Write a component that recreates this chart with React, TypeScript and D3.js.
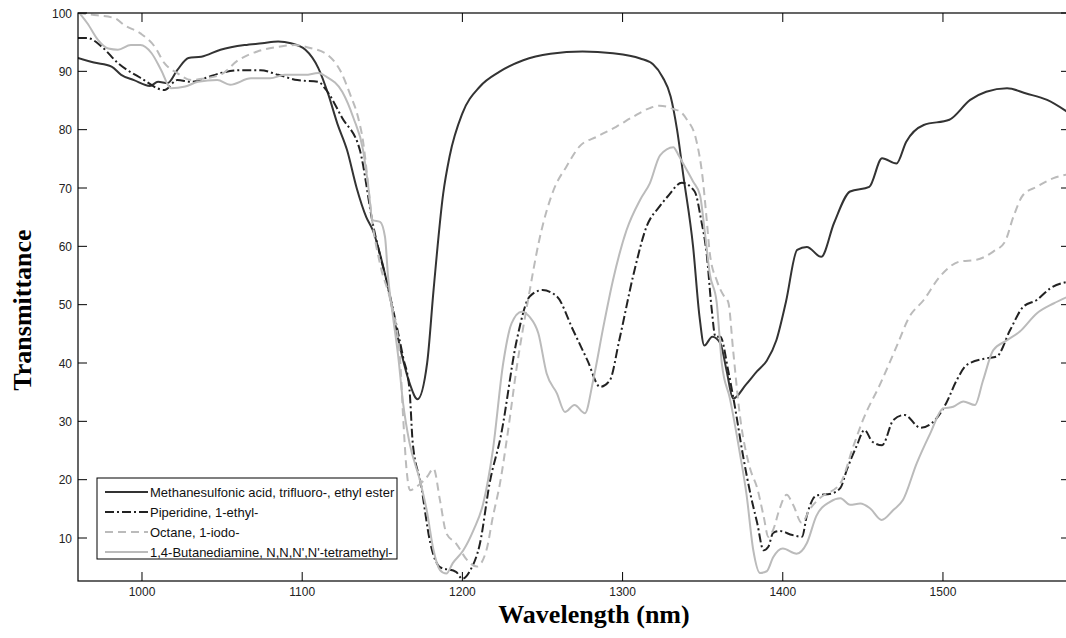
import React from "react";
import * as d3 from "d3";

const W = 1066;
const H = 638;

const xTicks = [1000, 1100, 1200, 1300, 1400, 1500];
const yTicks = [10, 20, 30, 40, 50, 60, 70, 80, 90, 100];

const seriesNames = [
  "Methanesulfonic acid, trifluoro-, ethyl ester",
  "Piperidine, 1-ethyl-",
  "Octane, 1-iodo-",
  "1,4-Butanediamine, N,N,N',N'-tetramethyl-",
];

const wlMeth = [960, 970, 981, 987, 995, 1005, 1010, 1016, 1022, 1029, 1037, 1049, 1064, 1075, 1085, 1093, 1102, 1110, 1116, 1122, 1128, 1134, 1140, 1144, 1153, 1161, 1167, 1172, 1178, 1182, 1188, 1192, 1200, 1211, 1223, 1238, 1255, 1275, 1294, 1311, 1319, 1325, 1330, 1334, 1338, 1344, 1348, 1351, 1356, 1361, 1365, 1369, 1377, 1384, 1390, 1396, 1402, 1409, 1415, 1424, 1432, 1442, 1454, 1462, 1471, 1477, 1488, 1504, 1517, 1527, 1540, 1552, 1565, 1579];
const tMeth = [92.3, 91.5, 90.8, 89.4, 88.5, 87.5, 88.2, 88.0, 90.2, 92.3, 92.5, 93.7, 94.5, 94.8, 95.1, 94.8, 93.7, 90.6, 86.3, 81, 76.5, 70, 65, 62.8, 53.7, 42.8, 36.6, 33.8, 40, 52.5, 69, 75.4, 82.8, 87.4, 89.9, 91.9, 93.0, 93.4, 93.1, 92.2, 91.2, 89, 85.7, 80, 72, 60, 48, 43, 44.5, 43.4, 38.6, 33.9, 36.3, 38.6, 40.4, 43.9, 50.5, 59.4, 59.9, 58.2, 64, 69.4, 70.2, 75.1, 74.2, 77.9, 80.8, 81.7, 85.1, 86.5, 87.1, 86.2, 85.1, 82.8];

const wlPip = [960, 966, 975, 985, 999, 1014, 1022, 1031, 1039, 1049, 1062, 1074, 1085, 1097, 1110, 1115, 1125, 1136, 1144, 1154, 1163, 1167, 1169, 1174, 1180, 1186, 1196, 1200, 1205, 1211, 1217, 1224, 1234, 1242, 1250, 1259, 1269, 1278, 1286, 1292, 1298, 1307, 1315, 1323, 1328, 1337, 1345, 1349, 1352.5, 1355.6, 1358, 1361, 1366, 1370, 1375, 1380, 1384, 1388, 1391, 1394, 1398, 1406, 1412, 1415, 1421, 1430, 1436, 1440, 1446, 1451, 1456, 1462, 1469, 1476, 1486, 1495, 1502, 1508.5, 1515, 1527, 1533.5, 1542, 1550, 1558.5, 1567, 1579];
const tPip = [95.7, 95.7, 94.2, 91.4, 88.9, 86.8, 88.5, 88.2, 88.8, 89.7, 90.2, 90.2, 89.4, 88.5, 88.2, 86.8, 82, 76.5, 64, 52.5, 41, 35.4, 26.3, 19.4, 9.1, 5, 4.2, 3.0, 4.5, 9.1, 19.4, 27.5, 44, 51.4, 52.5, 51.4, 45.7, 40.5, 35.9, 37, 44, 55.4, 63.4, 66.8, 68.5, 70.9, 69.4, 64.6, 58.7, 49.3, 44.5, 44.5, 38.6, 32.7, 24.4, 17.3, 12.6, 7.9, 8.5, 10.9, 11.2, 10.5, 10.2, 13.8, 17.3, 17.6, 18.6, 21.7, 25.7, 28.5, 26.5, 25.9, 30.2, 31.1, 28.9, 30.2, 33.1, 37, 39.7, 40.8, 41.1, 45.7, 49.6, 50.8, 52.8, 54];

const wlOct = [960, 972, 983, 989, 999, 1008, 1014, 1022, 1031, 1039, 1049, 1060, 1072, 1085, 1095, 1105, 1116, 1124, 1130, 1135, 1138, 1141, 1143.4, 1149, 1155, 1161, 1163, 1165, 1167.3, 1171.5, 1178, 1182, 1186, 1190, 1196, 1203, 1209, 1215, 1219, 1223.5, 1228, 1234, 1241, 1248, 1257, 1265, 1273, 1284, 1296, 1306.5, 1317, 1323, 1328, 1332, 1336, 1340, 1346, 1350, 1352.5, 1354.5, 1359, 1363, 1366, 1369, 1373, 1379.5, 1384, 1388, 1391, 1394, 1398, 1402.4, 1406.6, 1411.8, 1417, 1423, 1436, 1444, 1450, 1461, 1471, 1479, 1488, 1498, 1510.6, 1521, 1531.4, 1538.7, 1544, 1550, 1558.5, 1569, 1579];
const tOct = [100, 99.6, 99.1, 97.9, 96.5, 94.2, 91.4, 89.7, 88.5, 88.8, 89.4, 91.9, 93.4, 94.2, 94.5, 94, 92.8, 90, 86, 82, 78, 71, 65, 56.5, 50.8, 41, 30.8, 22.2, 18.2, 18.8, 20.5, 21.9, 16.5, 10.8, 9.1, 6.2, 5.1, 7.9, 13.6, 19.4, 27.4, 39.4, 50.8, 61.1, 69.7, 73.7, 77.1, 78.8, 80.5, 82.2, 83.7, 84.1, 83.9, 83.5, 83.1, 81.8, 78.2, 71.7, 64.6, 58.7, 54, 51.6, 50.4, 42.2, 31.5, 22, 18.6, 13.8, 10.2, 11.4, 15, 17.4, 15.6, 12.6, 15, 16.8, 19.4, 25.7, 30.2, 36.5, 42.8, 47.9, 50.8, 54.8, 57.4, 57.7, 59.1, 60.8, 65.1, 68.8, 70.2, 71.7, 72.4];

const wlBut = [960, 966, 972.5, 979, 985, 993, 999, 1006, 1012, 1018, 1027, 1035, 1047, 1055, 1068, 1080, 1089, 1102, 1110, 1115, 1125, 1132, 1138, 1141, 1144, 1148.6, 1151.7, 1153.6, 1156.7, 1160, 1163, 1167, 1173.5, 1177.7, 1182, 1186, 1190, 1194, 1200.6, 1207, 1213, 1219, 1225.5, 1230.7, 1237, 1242, 1247.4, 1252.6, 1259, 1264, 1270, 1276.5, 1281.7, 1288, 1294, 1302.5, 1311, 1317, 1323.4, 1331.7, 1334.6, 1338, 1344, 1348.3, 1351.4, 1354.5, 1358.7, 1362, 1367, 1373.3, 1377.4, 1381.6, 1385.8, 1390, 1394, 1400, 1408.6, 1415, 1421, 1429.5, 1436, 1442, 1448.4, 1454.4, 1461.7, 1469, 1475, 1483.6, 1492, 1500, 1506.4, 1512.7, 1520, 1525, 1531.4, 1540, 1548, 1558.5, 1569, 1579];
const tBut = [100.3, 98.2, 95.4, 93.9, 93.7, 94.5, 94.5, 93.1, 90.2, 87.1, 87.4, 88.2, 88.5, 87.7, 88.8, 88.8, 89.4, 89.4, 89.7, 89.1, 86.5, 82, 76.5, 70.8, 64.5, 64.2, 61.6, 54.8, 47.9, 41, 33.1, 26.3, 19.9, 14.8, 7.9, 4.5, 3.9, 5.7, 7.9, 11.4, 15.9, 25, 40, 46.8, 48.8, 47.9, 45.1, 38.2, 34.8, 31.6, 32.8, 31.4, 37.1, 46.2, 54.2, 62.8, 68, 70.8, 75.6, 77, 75.8, 74.1, 71.1, 68.8, 62.3, 55.2, 50.5, 39.8, 33.9, 24.4, 17.4, 7.9, 4, 4.3, 6.7, 8.2, 7.3, 9.1, 13.8, 16.2, 16.8, 15.7, 15.9, 15.1, 13.1, 14.8, 16.5, 22.8, 27.9, 32.2, 32.5, 33.4, 32.8, 37, 42.2, 43.9, 45.4, 48.5, 50.2, 51.5];

const series = [
  { name: seriesNames[0], wl: wlMeth, t: tMeth, color: "#333333", dash: "", width: 2 },
  { name: seriesNames[1], wl: wlPip, t: tPip, color: "#222222", dash: "9,3,2,3", width: 2 },
  { name: seriesNames[2], wl: wlOct, t: tOct, color: "#bbbbbb", dash: "8,5", width: 2 },
  { name: seriesNames[3], wl: wlBut, t: tBut, color: "#bbbbbb", dash: "", width: 2 },
];

const L = 78, T = 13, R = 1070, B = 581;

export default function App() {
  const x = d3.scaleLinear().domain([960.05, 1579.3]).range([L, R]);
  const y = d3.scaleLinear().domain([2.63, 100]).range([B, T]);
  const line = d3
    .line<[number, number]>()
    .x((d) => x(d[0]))
    .y((d) => y(d[1]))
    .curve(d3.curveMonotoneX);
  const tickLen = 9;
  const sans = "'Liberation Sans', Arial, sans-serif";
  const serif = "'Liberation Serif', 'Times New Roman', serif";
  const lgX = 97, lgY = 478, lgW = 300, lgH = 81;
  return (
    <svg
      width={W}
      height={H}
      style={{ position: "absolute", left: 0, top: 0, background: "#fff" }}
    >
      <defs>
        <clipPath id="plotclip">
          <rect x={L} y={T} width={R - L} height={B - T} />
        </clipPath>
      </defs>
      <rect x={0} y={0} width={W} height={H} fill="#fff" />
      <g clipPath="url(#plotclip)">
        {series.map((s, i) => (
          <path
            key={i}
            d={line(s.wl.map((w, j) => [w, s.t[j]] as [number, number])) || ""}
            fill="none"
            stroke={s.color}
            strokeWidth={s.width}
            strokeDasharray={s.dash || undefined}
            strokeLinejoin="round"
          />
        ))}
      </g>
      <rect x={L} y={T} width={R - L} height={B - T} fill="none" stroke="#000" strokeWidth={1.2} />
      {xTicks.map((v) => (
        <g key={"x" + v}>
          <line x1={x(v)} x2={x(v)} y1={B} y2={B - tickLen} stroke="#000" />
          <line x1={x(v)} x2={x(v)} y1={T} y2={T + tickLen} stroke="#000" />
          <text x={x(v)} y={596} textAnchor="middle" fontFamily={sans} fontSize={12} fill="#222">
            {v}
          </text>
        </g>
      ))}
      {yTicks.map((v) => (
        <g key={"y" + v}>
          <line x1={L} x2={L + tickLen} y1={y(v)} y2={y(v)} stroke="#000" />
          <line x1={R} x2={R - tickLen} y1={y(v)} y2={y(v)} stroke="#000" />
          <text x={72} y={y(v) + 4.5} textAnchor="end" fontFamily={sans} fontSize={12} fill="#222">
            {v}
          </text>
        </g>
      ))}
      <text
        x={594}
        y={623}
        textAnchor="middle"
        fontFamily={serif}
        fontWeight="bold"
        fontSize={26}
        fill="#000"
      >
        Wavelength (nm)
      </text>
      <text
        transform={`translate(31,310) rotate(-90)`}
        textAnchor="middle"
        fontFamily={serif}
        fontWeight="bold"
        fontSize={26}
        fill="#000"
      >
        Transmittance
      </text>
      <g>
        <rect x={lgX} y={lgY} width={lgW} height={lgH} fill="#fff" stroke="#000" strokeWidth={1} />
        {series.map((s, i) => {
          const ry = 492 + i * 20;
          return (
            <g key={"lg" + i}>
              <line
                x1={105}
                x2={148}
                y1={ry}
                y2={ry}
                stroke={s.color}
                strokeWidth={s.width}
                strokeDasharray={s.dash || undefined}
              />
              <text x={150} y={ry + 4.5} fontFamily={sans} fontSize={13} fill="#111">
                {s.name}
              </text>
            </g>
          );
        })}
      </g>
    </svg>
  );
}
